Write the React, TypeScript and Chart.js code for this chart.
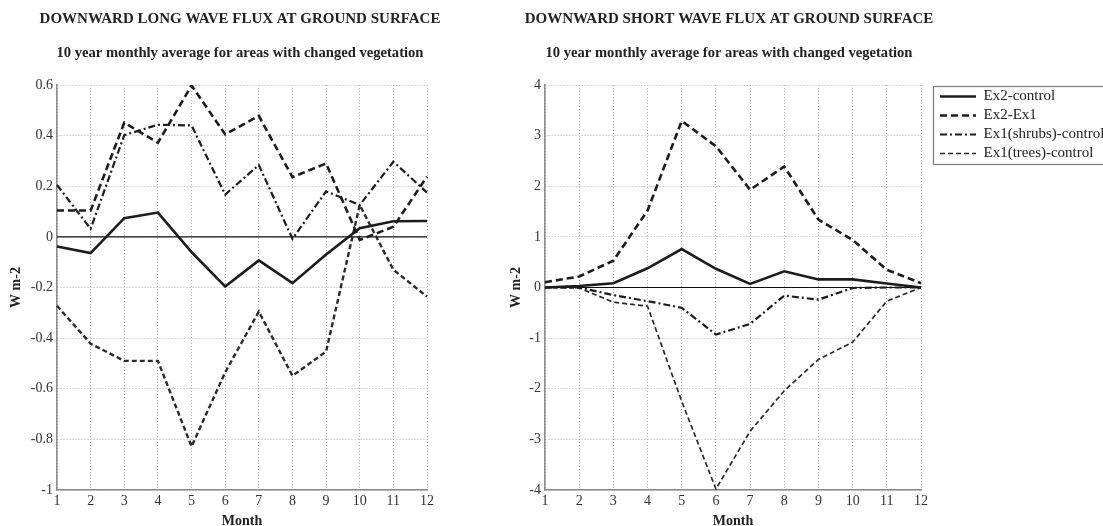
import React, { useEffect, useRef } from 'react';
import { Chart, registerables } from 'chart.js';

Chart.register(...registerables);

// ---------- data ----------
const months = ['1', '2', '3', '4', '5', '6', '7', '8', '9', '10', '11', '12'];
const seriesNames = ['Ex2-control', 'Ex2-Ex1', 'Ex1(shrubs)-control', 'Ex1(trees)-control'];

const lwTitle = 'DOWNWARD LONG WAVE FLUX AT GROUND SURFACE';
const swTitle = 'DOWNWARD SHORT WAVE FLUX AT GROUND SURFACE';
const subTitle = '10 year monthly average for areas with changed vegetation';
const xTitle = 'Month';
const yTitle = 'W m-2';

// Long wave (left panel)
const lwEx2Control = [-0.038, -0.064, 0.074, 0.096, -0.06, -0.196, -0.093, -0.183, -0.07, 0.034, 0.062, 0.063];
const lwEx2Ex1 = [0.104, 0.104, 0.451, 0.372, 0.598, 0.405, 0.478, 0.236, 0.29, -0.012, 0.04, 0.238];
const lwShrubs = [0.205, 0.032, 0.402, 0.443, 0.44, 0.167, 0.284, -0.008, 0.18, 0.126, 0.297, 0.175];
const lwTrees = [-0.272, -0.422, -0.49, -0.49, -0.828, -0.535, -0.295, -0.549, -0.453, 0.126, -0.13, -0.236];
const lwYTicks = [-1, -0.8, -0.6, -0.4, -0.2, 0, 0.2, 0.4, 0.6];

// Short wave (right panel)
const swEx2Control = [0.0, 0.03, 0.085, 0.38, 0.76, 0.37, 0.07, 0.32, 0.16, 0.16, 0.08, 0.0];
const swEx2Ex1 = [0.105, 0.217, 0.53, 1.52, 3.29, 2.79, 1.93, 2.39, 1.34, 0.94, 0.35, 0.085];
const swShrubs = [0.0, 0.0, -0.15, -0.27, -0.4, -0.93, -0.72, -0.16, -0.24, -0.01, 0.0, 0.0];
const swTrees = [0.0, -0.01, -0.29, -0.37, -2.25, -3.98, -2.84, -2.04, -1.42, -1.08, -0.27, 0.0];
const swYTicks = [-4, -3, -2, -1, 0, 1, 2, 3, 4];

// ---------- styles ----------
const SERIF = "'Liberation Serif', 'Times New Roman', serif";
const lineStyles = [
  { color: '#1c1c1c', width: 2.6, dash: [] as number[] },
  { color: '#1c1c1c', width: 2.6, dash: [7, 4] },
  { color: '#1c1c1c', width: 2.2, dash: [7, 3, 2, 3] },
  { color: '#2a2a2a', width: 2.2, dash: [5, 3] },
];

const zeroLinePlugin = {
  id: 'zeroLine',
  beforeDatasetsDraw(chart: any) {
    const y = chart.scales.y.getPixelForValue(0);
    const { left, right } = chart.chartArea;
    const ctx = chart.ctx;
    ctx.save();
    ctx.strokeStyle = '#111';
    ctx.lineWidth = 1.2;
    ctx.setLineDash([]);
    ctx.beginPath();
    ctx.moveTo(left, y);
    ctx.lineTo(right, y);
    ctx.stroke();
    ctx.restore();
  },
};

const LEGEND_PAD = 4;

const legendShiftPlugin = {
  id: 'legendShift',
  afterLayout(chart: any) {
    const lg = chart.legend;
    if (!lg) return;
    lg.left += 15;
    lg.right = chart.width;
    lg.width = lg.right - lg.left;
  },
};

const legendBoxPlugin = {
  id: 'legendBox',
  afterDraw(chart: any) {
    const lg = chart.legend;
    if (!lg) return;
    const ctx = chart.ctx;
    const x0 = lg.left + LEGEND_PAD - 7;
    const y0 = lg.top + LEGEND_PAD - 3;
    ctx.save();
    ctx.strokeStyle = '#7a7a7a';
    ctx.lineWidth = 1.2;
    ctx.setLineDash([]);
    ctx.strokeRect(Math.round(x0) + 0.5, Math.round(y0) + 0.5, chart.width, 78);
    ctx.restore();
  },
};

type PanelOpts = {
  title: string;
  series: number[][];
  yTicks: number[];
  yWidth: number;
  padRight: number;
  rightSpacer: number;
  legend: boolean;
  legendWidth: number;
  treesWidth: number;
};

function makeConfig(p: PanelOpts): any {
  const datasets = p.series.map((vals, i) => ({
    label: seriesNames[i],
    data: vals,
    yAxisID: 'y',
    borderColor: lineStyles[i].color,
    backgroundColor: 'transparent',
    borderWidth: i === 3 ? p.treesWidth : lineStyles[i].width,
    borderDash: lineStyles[i].dash,
    borderCapStyle: 'butt',
    borderJoinStyle: 'miter',
    pointRadius: 0,
    pointHoverRadius: 0,
    tension: 0,
    fill: false,
  }));
  const gridCommon = { color: '#b4b4b4', lineWidth: 1, drawTicks: false };
  const borderCommon = { display: true, color: '#8a8a8a', width: 1.5, dash: [1, 2] };
  const tickFont = { family: SERIF, size: 14 };
  const titleSize = 15;
  const subSize = 14.6;
  const titleLH = titleSize * 1.2;
  const subLH = subSize * 1.2;
  const titleTop = 19 - titleLH / 2;
  const subTopPad = 53.5 - (titleTop + titleLH) - subLH / 2;
  const subBottomPad = 85 - (titleTop + titleLH + subTopPad + subLH);
  const scales: any = {
    x: {
      type: 'category',
      offset: false,
      grid: { ...gridCommon, offset: false },
      border: borderCommon,
      ticks: { padding: 3, color: '#333', font: tickFont, maxRotation: 0, autoSkip: false },
      title: {
        display: true,
        text: xTitle,
        color: '#222',
        font: { family: SERIF, size: 14, weight: 'bold' },
        padding: { top: 0, bottom: 2.6 },
      },
      afterFit: (s: any) => {
        s.height = 42;
      },
    },
    y: {
      type: 'linear',
      position: 'left',
      min: p.yTicks[0],
      max: p.yTicks[p.yTicks.length - 1],
      afterBuildTicks: (axis: any) => {
        axis.ticks = p.yTicks.map((v) => ({ value: v }));
      },
      grid: gridCommon,
      border: borderCommon,
      ticks: {
        padding: 4,
        color: '#333',
        font: tickFont,
        callback: (v: any) => String(v),
      },
      title: {
        display: true,
        text: yTitle,
        color: '#222',
        font: { family: SERIF, size: 14, weight: 'bold' },
        padding: { top: 7.6, bottom: 0 },
      },
      afterFit: (s: any) => {
        s.width = p.yWidth;
      },
    },
  };
  if (p.rightSpacer > 0) {
    scales.ySpacer = {
      type: 'linear',
      position: 'right',
      display: true,
      grid: { display: false, drawOnChartArea: false },
      border: { display: false },
      ticks: { display: false },
      afterFit: (s: any) => {
        s.width = p.rightSpacer;
      },
    };
  }
  return {
    type: 'line',
    data: { labels: months, datasets },
    plugins: p.legend ? [zeroLinePlugin, legendShiftPlugin, legendBoxPlugin] : [zeroLinePlugin],
    options: {
      responsive: false,
      animation: false,
      devicePixelRatio: 1,
      layout: { padding: { left: 0, right: p.padRight, top: 0, bottom: 0 } },
      plugins: {
        title: {
          display: true,
          text: p.title,
          fullSize: true,
          color: '#222',
          font: { family: SERIF, size: titleSize, weight: 'bold' },
          padding: { top: titleTop, bottom: 0 },
        },
        subtitle: {
          display: true,
          text: subTitle,
          fullSize: true,
          color: '#222',
          font: { family: SERIF, size: subSize, weight: 'bold' },
          padding: { top: subTopPad, bottom: subBottomPad },
        },
        legend: p.legend
          ? {
              display: true,
              position: 'right',
              align: 'start',
              fullSize: false,
              maxWidth: p.legendWidth,
              labels: {
                usePointStyle: true,
                pointStyle: 'line',
                pointStyleWidth: 36,
                padding: LEGEND_PAD,
                color: '#222',
                font: { family: SERIF, size: 15 },
                generateLabels: (chart: any) =>
                  chart.data.datasets.map((ds: any, i: number) => ({
                    text: ds.label,
                    fillStyle: 'transparent',
                    strokeStyle: ds.borderColor,
                    lineWidth: ds.borderWidth,
                    lineDash: ds.borderDash,
                    lineCap: 'butt',
                    lineJoin: 'miter',
                    pointStyle: 'line',
                    hidden: false,
                    fontColor: '#222',
                    datasetIndex: i,
                  })),
              },
            }
          : { display: false },
        tooltip: { enabled: false },
      },
      scales,
    },
  };
}

function Panel({ left, width, height, opts }: { left: number; width: number; height: number; opts: PanelOpts }) {
  const ref = useRef<HTMLCanvasElement | null>(null);
  useEffect(() => {
    if (!ref.current) return;
    const chart = new Chart(ref.current, makeConfig(opts));
    return () => chart.destroy();
  }, []);
  return (
    <div style={{ position: 'absolute', left, top: 0, width, height }}>
      <canvas ref={ref} width={width} height={height} style={{ width, height, display: 'block' }} />
    </div>
  );
}

export default function App() {
  return (
    <div
      style={{
        position: 'fixed',
        left: 0,
        top: 0,
        width: 1103,
        height: 526,
        overflow: 'hidden',
        background: '#fff',
      }}
    >
      <Panel
        left={0}
        width={480}
        height={532}
        opts={{
          title: lwTitle,
          series: [lwEx2Control, lwEx2Ex1, lwShrubs, lwTrees],
          yTicks: lwYTicks,
          yWidth: 57,
          padRight: 0,
          rightSpacer: 53,
          legend: false,
          legendWidth: 0,
          treesWidth: 2.4,
        }}
      />
      <Panel
        left={500}
        width={640}
        height={532}
        opts={{
          title: swTitle,
          series: [swEx2Control, swEx2Ex1, swShrubs, swTrees],
          yTicks: swYTicks,
          yWidth: 45,
          padRight: 182,
          rightSpacer: 0,
          legend: true,
          legendWidth: 37,
          treesWidth: 1.7,
        }}
      />
    </div>
  );
}
